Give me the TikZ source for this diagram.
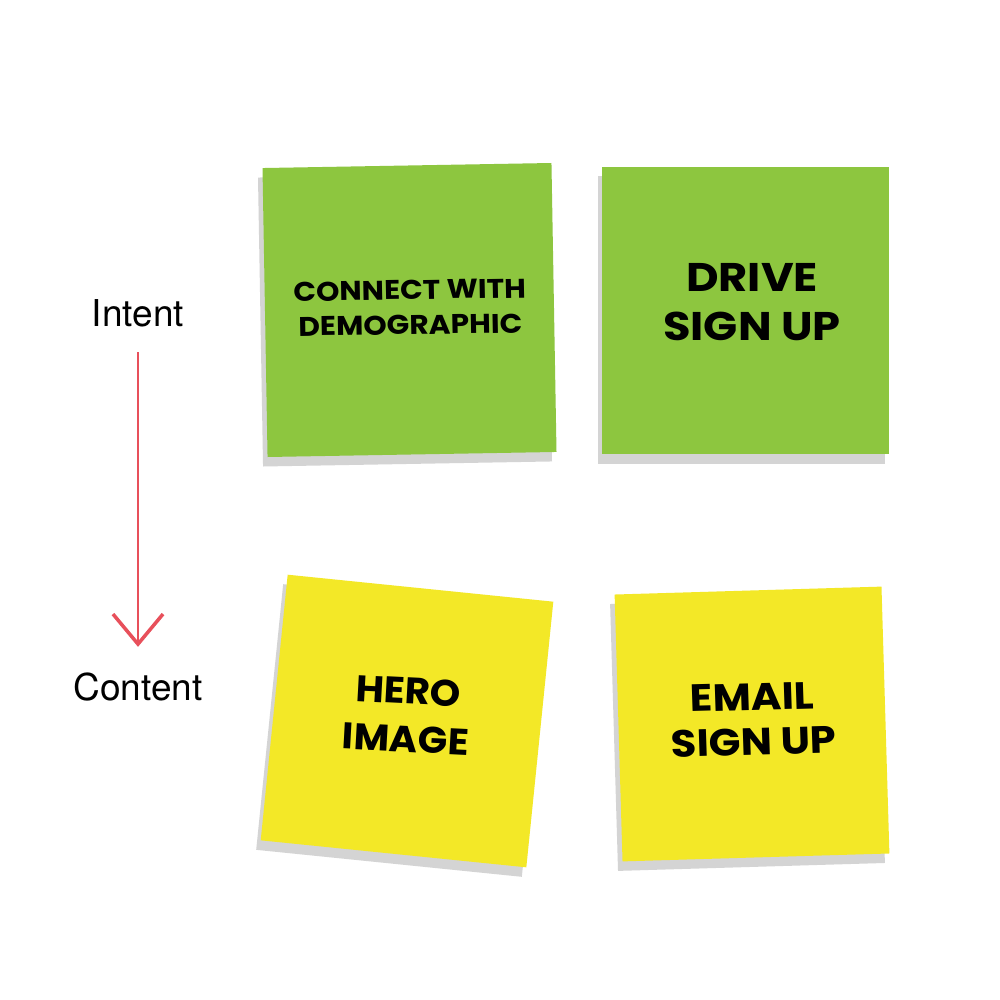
\documentclass[tikz,border=0pt]{standalone}
\usepackage{fontspec}
\setmainfont{TeX Gyre Heros}
\newfontfamily\notefont{Poppins}
\usetikzlibrary{arrows.meta}
\definecolor{stickgreen}{HTML}{8DC63F}
\definecolor{stickyellow}{HTML}{F3E827}
\definecolor{shadowgray}{HTML}{D4D4D4}
\definecolor{arrowred}{HTML}{E8505B}
\begin{document}
\begin{tikzpicture}[x=1pt,y=1pt,
  notebox/.style={minimum width=#1, minimum height=#1, inner sep=0pt, outer sep=0pt, draw=none},
  notetext/.style={align=center, inner sep=0pt, text=black},
  sidelabel/.style={font=\fontsize{37}{40}\selectfont, text height=27pt, text depth=0pt, inner sep=0pt, anchor=base},
  redarrow/.style={draw=arrowred, line width=2.4pt, -{Straight Barb[length=30pt, width=50pt, line width=3.5pt]}}]
\fill[white] (0,0) rectangle (1000,-1000);
\useasboundingbox (0,0) rectangle (1000,-1000);
% shadows
\node[notebox=289pt, fill=shadowgray, rotate=1] (s1) at (405,-319.5) {};
\node[notebox=287pt, fill=shadowgray] (s2) at (741,-320) {};
\node[notebox=267pt, fill=shadowgray, rotate=-5.8] (s3) at (402.5,-730.5) {};
\node[notebox=267pt, fill=shadowgray, rotate=1.7] (s4) at (747.5,-733.5) {};
% notes
\node[notebox=289pt, fill=stickgreen, rotate=1] (n1) at (409.5,-310) {};
\node[notebox=287pt, fill=stickgreen] (n2) at (745.5,-310.5) {};
\node[notebox=267pt, fill=stickyellow, rotate=-5.8] (n3) at (407,-721) {};
\node[notebox=267pt, fill=stickyellow, rotate=1.7] (n4) at (752,-724) {};
% note texts
\node[notetext, font=\notefont\bfseries\fontsize{27}{35}\selectfont, xscale=1.1, rotate=1] (t1) at (410,-307.5) {CONNECT WITH\\DEMOGRAPHIC};
\node[notetext, font=\notefont\bfseries\fontsize{40}{49}\selectfont, xscale=1.12] (t2) at (752,-302.5) {DRIVE\\SIGN UP};
\node[notetext, font=\notefont\bfseries\fontsize{37}{48}\selectfont, xscale=1.05, rotate=-3] (t3) at (407,-715) {HERO\\IMAGE};
\node[notetext, font=\notefont\bfseries\fontsize{38}{45}\selectfont, xscale=1.1, rotate=1.7] (t4) at (753,-719.5) {EMAIL\\SIGN UP};
% side labels
\node[sidelabel] (intent) at (138,-326.7) {Intent};
\node[sidelabel] (content) at (138,-700.7) {Content};
\draw[redarrow, shorten <=25.3pt, shorten >=26.7pt] (intent.south) -- (content.north);
\end{tikzpicture}
\end{document}
